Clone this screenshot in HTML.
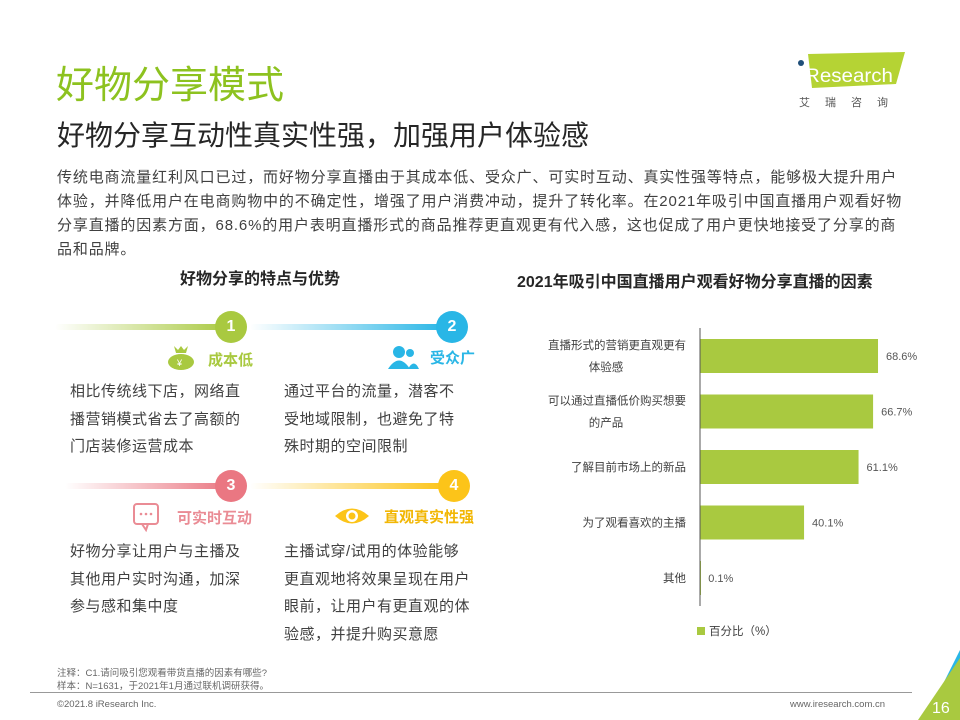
<!DOCTYPE html>
<html><head><meta charset="utf-8">
<style>
*{margin:0;padding:0;box-sizing:border-box}
body{width:960px;height:720px;background:#fff;position:relative;overflow:hidden;font-family:"Liberation Sans","Noto Sans CJK SC",sans-serif;color:#404040}
.a{position:absolute;white-space:nowrap}
.p{font-size:15px;line-height:24px;color:#404040;letter-spacing:0.85px}
.t{font-size:15px;line-height:27.5px;color:#404040;letter-spacing:0.5px}
.line{position:absolute;height:6px;border-radius:3px}
.num{position:absolute;width:32px;height:32px;border-radius:50%;color:#fff;font-weight:bold;font-size:16px;text-align:center;line-height:32px}
</style></head><body>
<div class="a" style="left:56px;top:54px;font-size:38px;color:#8dc21f">好物分享模式</div>
<div class="a" style="left:57px;top:114px;font-size:28px;color:#262626">好物分享互动性真实性强，加强用户体验感</div>
<div class="a p" style="left:57px;top:166px">传统电商流量红利风口已过，而好物分享直播由于其成本低、受众广、可实时互动、真实性强等特点，能够极大提升用户<br>体验，并降低用户在电商购物中的不确定性，增强了用户消费冲动，提升了转化率。在2021年吸引中国直播用户观看好物<br>分享直播的因素方面，68.6%的用户表明直播形式的商品推荐更直观更有代入感，这也促成了用户更快地接受了分享的商<br>品和品牌。</div>

<svg class="a" style="left:790px;top:48px" width="130" height="62">
<polygon points="18,6 115,4 106,36 22,40" fill="#b5d334"/>
<circle cx="11" cy="15" r="3" fill="#1f4e79"/>
<text x="15" y="34" font-size="19" fill="#fff" font-family="Liberation Sans" textLength="88" lengthAdjust="spacingAndGlyphs">Research</text>
<text x="9" y="58" font-size="11" fill="#555" font-family="Noto Sans CJK SC" letter-spacing="15">艾瑞咨询</text>
</svg>

<div class="a" style="left:180px;top:265px;font-size:16px;font-weight:bold;color:#262626">好物分享的特点与优势</div>

<div class="line" style="left:55px;top:324px;width:175px;background:linear-gradient(90deg,#fff,#a9c940)"></div>
<div class="num" style="left:215px;top:311px;background:#a9c940">1</div>
<div class="line" style="left:250px;top:324px;width:195px;background:linear-gradient(90deg,#fff,#29b6e6)"></div>
<div class="num" style="left:436px;top:311px;background:#29b6e6">2</div>

<svg class="a" style="left:164px;top:343px" width="34" height="28"><path d="M10 3 L14 7 L17 3 L20 7 L24 3 L22 10 L12 10 Z" fill="#a9c940"/><ellipse cx="17" cy="19" rx="13" ry="8" fill="#a9c940"/><text x="13" y="23" font-size="9" fill="#fff">¥</text></svg>
<div class="a" style="left:208px;top:349px;font-size:15px;font-weight:bold;color:#a9c940">成本低</div>
<svg class="a" style="left:388px;top:344px" width="32" height="26"><circle cx="11" cy="8" r="6" fill="#29b6e6"/><path d="M0 25 Q11 8 22 25Z" fill="#29b6e6"/><circle cx="22" cy="9" r="4" fill="#29b6e6"/><path d="M20 25 Q26 14 31 25Z" fill="#29b6e6"/></svg>
<div class="a" style="left:430px;top:347px;font-size:15px;font-weight:bold;color:#29b6e6">受众广</div>

<div class="a t" style="left:70px;top:378px">相比传统线下店，网络直<br>播营销模式省去了高额的<br>门店装修运营成本</div>
<div class="a t" style="left:284px;top:378px">通过平台的流量，潜客不<br>受地域限制，也避免了特<br>殊时期的空间限制</div>

<div class="line" style="left:65px;top:483px;width:165px;background:linear-gradient(90deg,#fff,#ea7782)"></div>
<div class="num" style="left:215px;top:470px;background:#ea7782">3</div>
<div class="line" style="left:250px;top:483px;width:195px;background:linear-gradient(90deg,#fff,#fcc419)"></div>
<div class="num" style="left:438px;top:470px;background:#fcc419">4</div>

<svg class="a" style="left:132px;top:502px" width="30" height="30"><rect x="2" y="2" width="24" height="20" rx="3" fill="none" stroke="#ea8c95" stroke-width="2"/><path d="M10 22 L14 28 L16 22" fill="none" stroke="#ea8c95" stroke-width="2"/><circle cx="9" cy="12" r="1.3" fill="#ea8c95"/><circle cx="14" cy="12" r="1.3" fill="#ea8c95"/><circle cx="19" cy="12" r="1.3" fill="#ea8c95"/></svg>
<div class="a" style="left:177px;top:507px;font-size:15px;font-weight:bold;color:#ea8c95">可实时互动</div>
<svg class="a" style="left:334px;top:505px" width="36" height="22"><path d="M1 11 Q18 -4 35 11 Q18 26 1 11Z" fill="#fcc419"/><circle cx="18" cy="11" r="6" fill="#fff"/><circle cx="18" cy="11" r="3.5" fill="#fcc419"/></svg>
<div class="a" style="left:384px;top:506px;font-size:15px;font-weight:bold;color:#f2b705">直观真实性强</div>

<div class="a t" style="left:70px;top:538px">好物分享让用户与主播及<br>其他用户实时沟通，加深<br>参与感和集中度</div>
<div class="a t" style="left:284px;top:538px">主播试穿/试用的体验能够<br>更直观地将效果呈现在用户<br>眼前，让用户有更直观的体<br>验感，并提升购买意愿</div>

<div class="a" style="left:517px;top:268px;font-size:16px;font-weight:bold;color:#262626">2021年吸引中国直播用户观看好物分享直播的因素</div>
<svg id="chart" class="a" style="left:500px;top:320px" width="460" height="330"></svg>

<div class="a" style="left:57px;top:667px;font-size:9.5px;line-height:13px;color:#666">注释：C1.请问吸引您观看带货直播的因素有哪些?<br>样本：N=1631，于2021年1月通过联机调研获得。</div>
<div class="a" style="left:30px;top:692px;width:882px;height:1px;background:#999"></div>
<div class="a" style="left:57px;top:699px;font-size:9.5px;color:#666">©2021.8 iResearch Inc.</div>
<div class="a" style="left:790px;top:699px;font-size:9.5px;color:#666">www.iresearch.com.cn</div>
<svg class="a" style="left:900px;top:650px" width="60" height="70"><polygon points="60,0 60,40 40,40" fill="#29b6e6"/><polygon points="60,8 60,70 18,70" fill="#a9c940"/><text x="32" y="63" font-size="16" fill="#fff" font-family="Liberation Sans">16</text></svg>

<script>
const categories=[["直播形式的营销更直观更有","体验感"],["可以通过直播低价购买想要","的产品"],["了解目前市场上的新品"],["为了观看喜欢的主播"],["其他"]];
const values=[68.6,66.7,61.1,40.1,0.1];
const valueLabels=["68.6%","66.7%","61.1%","40.1%","0.1%"];
const svg=document.getElementById('chart');
const NS='http://www.w3.org/2000/svg';
const x0=200, scale=2.595, yTop=19, band=55.5, bh=34;
const xs=v=>x0+v*scale;
const ys=i=>yTop+i*band;
function mk(t,a){const e=document.createElementNS(NS,t);for(const k in a)e.setAttribute(k,a[k]);svg.appendChild(e);return e;}
values.forEach((v,i)=>{
 const r=mk('rect',{x:x0,y:ys(i),width:Math.max(xs(v)-x0,1),height:bh,fill:'#a9c940'});
 
 
 const t=mk('text',{x:xs(v)+8,y:ys(i)+bh/2+4,'font-size':11,fill:'#555'});
 t.textContent=valueLabels[i];
 
 
 const lines=categories[i];
 lines.forEach((ln,j)=>{
  const c=mk('text',{x:186,y:ys(i)+bh/2+4+(lines.length>1?(j-0.5)*22:0),'font-size':11.5,fill:'#404040','text-anchor':lines.length>1&&j==1?'middle':'end'});
  if(lines.length>1&&j==1)c.setAttribute('x',106);
  c.textContent=ln;
  
  
 });
});
const ax=mk('line',{x1:x0,y1:8,x2:x0,y2:286,stroke:'#555','stroke-width':1});


const lr=mk('rect',{x:197,y:307,width:8,height:8,fill:'#a9c940'});


const lt=mk('text',{x:209,y:315,'font-size':11.5,fill:'#404040'});
lt.textContent='百分比（%）';


</script>
</body></html>
